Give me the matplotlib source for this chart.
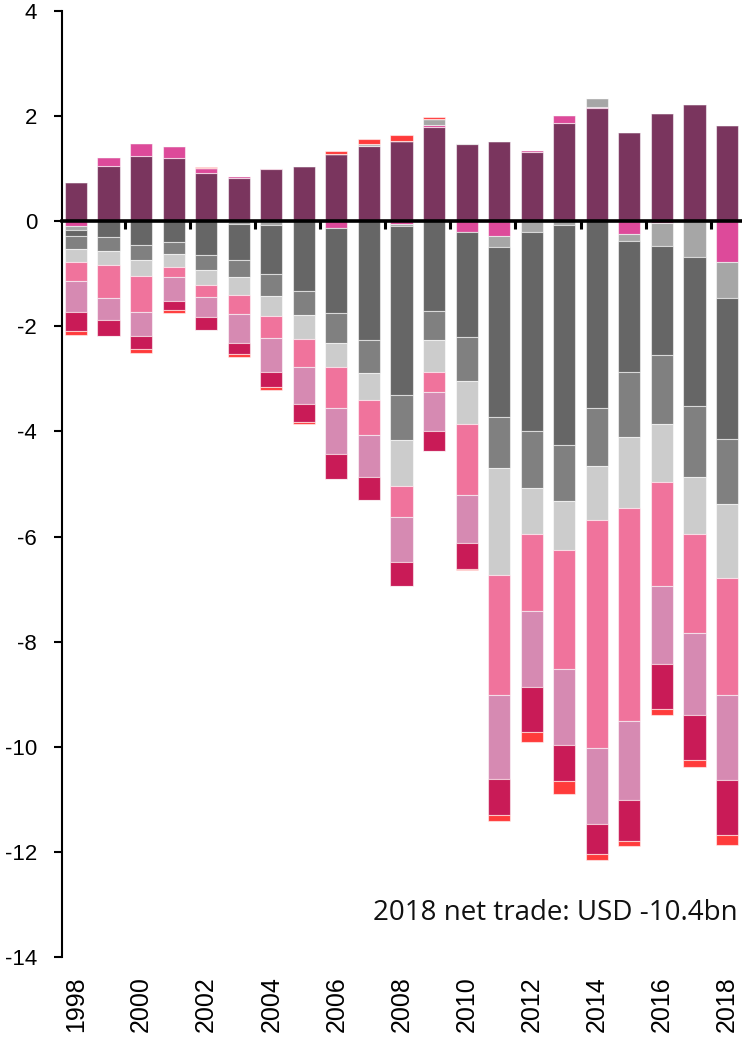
import numpy as np
import matplotlib
matplotlib.use("Agg")
import matplotlib.pyplot as plt

years = list(range(1998, 2019))

purple = [0.75, 1.06, 1.24, 1.21, 0.91, 0.82, 1.00, 1.06, 1.28, 1.43, 1.52,
          1.79, 1.47, 1.535, 1.31, 1.865, 2.16, 1.69, 2.055, 2.23, 1.83]
magenta = [-0.09, 0.17, 0.24, 0.22, 0.11, 0.04, 0.01, 0.0, -0.13, 0.0, -0.06,
           0.05, -0.20, -0.285, 0.05, 0.16, 0.02, -0.24, -0.04, 0.0, -0.77]
gray_a6 = [-0.075, 0.0, 0.0, 0.0, 0.0, -0.05, -0.08, 0.0, 0.0, 0.03, -0.03,
           0.11, 0.02, -0.21, -0.20, -0.07, 0.16, -0.13, -0.44, -0.68, -0.69]
gray_66 = [-0.12, -0.305, -0.457, -0.387, -0.635, -0.68, -0.93, -1.33, -1.61, -2.26, -3.21,
           -1.70, -2.01, -3.235, -3.80, -4.19, -3.56, -2.50, -2.06, -2.83, -2.68]
gray_80 = [-0.235, -0.265, -0.285, -0.228, -0.285, -0.335, -0.42, -0.45, -0.58, -0.62, -0.87,
           -0.56, -0.83, -0.97, -1.07, -1.07, -1.10, -1.24, -1.32, -1.35, -1.24]
gray_cc = [-0.255, -0.267, -0.298, -0.26, -0.30, -0.33, -0.38, -0.47, -0.46, -0.53, -0.86,
           -0.61, -0.82, -2.04, -0.89, -0.92, -1.03, -1.34, -1.11, -1.10, -1.40]
pink = [-0.355, -0.633, -0.68, -0.19, -0.23, -0.365, -0.42, -0.53, -0.78, -0.66, -0.59,
        -0.38, -1.34, -2.27, -1.45, -2.27, -4.34, -4.05, -1.98, -1.87, -2.24]
mauve = [-0.60, -0.415, -0.47, -0.45, -0.37, -0.55, -0.64, -0.69, -0.86, -0.80, -0.86,
         -0.75, -0.93, -1.60, -1.46, -1.45, -1.43, -1.51, -1.47, -1.56, -1.61]
crimson = [-0.36, -0.29, -0.245, -0.175, -0.25, -0.21, -0.28, -0.35, -0.49, -0.44, -0.46,
           -0.37, -0.48, -0.69, -0.85, -0.68, -0.58, -0.79, -0.87, -0.87, -1.04]
red = [-0.07, 0.0, -0.065, -0.06, 0.02, -0.06, -0.06, -0.04, 0.055, 0.095, 0.13,
       0.04, -0.02, -0.11, -0.19, -0.24, -0.12, -0.09, -0.11, -0.12, -0.20]

series = [purple, magenta, gray_a6, gray_66, gray_80, gray_cc, pink, mauve, crimson, red]
colors = ["#7A355E", "#DD4A9A", "#A6A6A6", "#666666", "#808080", "#CCCCCC",
          "#F0739C", "#D68AB2", "#C91B57", "#FF3B3B"]

annotation = "2018 net trade: USD -10.4bn"
y_ticks = list(range(-14, 5, 2))
x_label_years = list(range(1998, 2019, 2))

fig = plt.figure(figsize=(7.42, 10.37), dpi=100)
ax = fig.add_axes([62 / 742, 80 / 1037, 680 / 742, 946 / 1037])

x = np.array(years, dtype=float)
pos_cum = np.zeros(len(years))
neg_cum = np.zeros(len(years))
for vals, col in zip(series, colors):
    v = np.array(vals, dtype=float)
    pos = np.clip(v, 0, None)
    neg = np.clip(v, None, 0)
    ax.bar(x, pos, bottom=pos_cum, width=0.68, color=col,
           edgecolor=(1, 1, 1, 0.55), linewidth=0.8, zorder=2)
    ax.bar(x, neg, bottom=neg_cum, width=0.68, color=col,
           edgecolor=(1, 1, 1, 0.55), linewidth=0.8, zorder=2)
    pos_cum += pos
    neg_cum += neg

ax.set_xlim(1997.57, 2018.46)
ax.set_ylim(-14, 4)

for s in ["top", "right", "bottom"]:
    ax.spines[s].set_visible(False)
ax.spines["left"].set_linewidth(1.5)

tick_font = ["Liberation Sans", "DejaVu Sans"]
ax.set_yticks(y_ticks)
ax.set_yticklabels([str(t) for t in y_ticks], family=tick_font)
ax.tick_params(axis="y", direction="out", length=6, width=1.5, labelsize=16, pad=12)

ax.set_xticks(x_label_years)
ax.set_xticklabels([str(y) for y in x_label_years], rotation=90, family=tick_font)
ax.tick_params(axis="x", length=0, labelsize=18, pad=14)

# zero line with small category ticks
zero_frac = (0 - (-14)) / 18
secax = ax.secondary_xaxis(zero_frac)
secax.set_alignment("bottom")
secax.set_xticks([y + 0.5 for y in range(1999, 2018, 2)])
secax.tick_params(axis="x", direction="out", length=6, width=2.2, labelbottom=False, labeltop=False)
secax.spines["bottom"].set_linewidth(2.6)
secax.set_zorder(5)

ax.text(0.993, 0.046, annotation, transform=ax.transAxes, ha="right", va="center",
        fontsize=20, family=["Open Sans", "DejaVu Sans"], color="#111111")

fig.savefig("out.png", dpi=100)
